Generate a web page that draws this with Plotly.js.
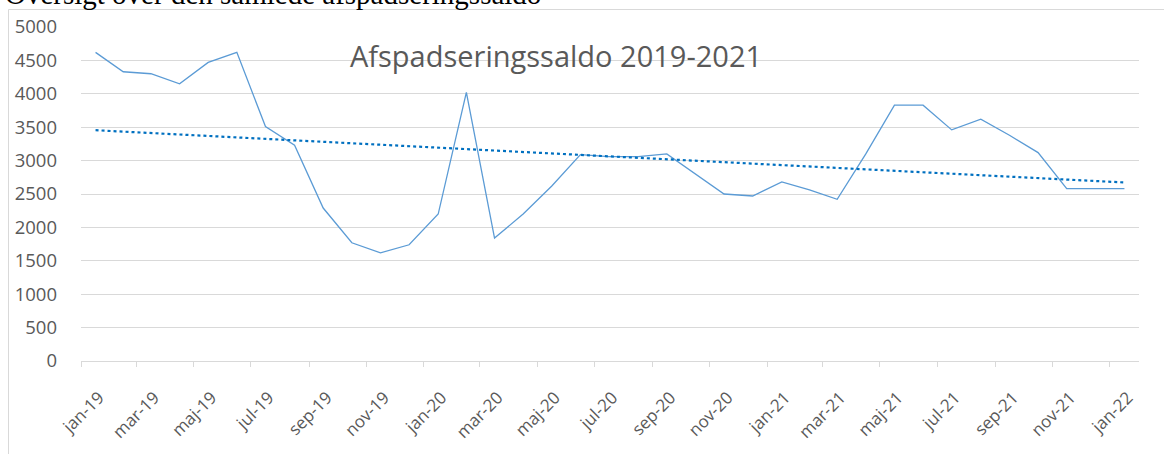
<!DOCTYPE html>
<html>
<head>
<meta charset="utf-8">
<script src="https://cdn.plot.ly/plotly-3.0.1.min.js"></script>
<style>
html, body { margin: 0; padding: 0; background: #ffffff; }
#chart { width: 1164px; height: 454px; }
</style>
</head>
<body>
<div id="chart"></div>
<script>
const months = [
  '2019-01-01','2019-02-01','2019-03-01','2019-04-01','2019-05-01','2019-06-01',
  '2019-07-01','2019-08-01','2019-09-01','2019-10-01','2019-11-01','2019-12-01',
  '2020-01-01','2020-02-01','2020-03-01','2020-04-01','2020-05-01','2020-06-01',
  '2020-07-01','2020-08-01','2020-09-01','2020-10-01','2020-11-01','2020-12-01',
  '2021-01-01','2021-02-01','2021-03-01','2021-04-01','2021-05-01','2021-06-01',
  '2021-07-01','2021-08-01','2021-09-01','2021-10-01','2021-11-01','2021-12-01',
  '2022-01-01'
];
const saldo = [
  4620, 4330, 4300, 4150, 4470, 4620,
  3510, 3230, 2290, 1770, 1620, 1740,
  2200, 4020, 1840, 2200, 2620, 3090,
  3060, 3060, 3100, 2800, 2500, 2470,
  2680, 2560, 2420, 3100, 3830, 3830,
  3460, 3620, 3380, 3120, 2580, 2580,
  2580
];
const tickDates = [
  '2019-01-01','2019-03-01','2019-05-01','2019-07-01','2019-09-01','2019-11-01',
  '2020-01-01','2020-03-01','2020-05-01','2020-07-01','2020-09-01','2020-11-01',
  '2021-01-01','2021-03-01','2021-05-01','2021-07-01','2021-09-01','2021-11-01',
  '2022-01-01'
];
const tickLabels = [
  'jan-19','mar-19','maj-19','jul-19','sep-19','nov-19',
  'jan-20','mar-20','maj-20','jul-20','sep-20','nov-20',
  'jan-21','mar-21','maj-21','jul-21','sep-21','nov-21',
  'jan-22'
];
const chartTitle = 'Afspadseringssaldo 2019-2021';
const headingText = 'Oversigt over den samlede afspadseringssaldo';

// Linear trend line (least squares over the series)
const n = saldo.length;
let sx = 0, sy = 0, sxx = 0, sxy = 0;
for (let i = 0; i < n; i++) { sx += i; sy += saldo[i]; sxx += i * i; sxy += i * saldo[i]; }
const slope = (n * sxy - sx * sy) / (n * sxx - sx * sx);
const icpt = (sy - slope * sx) / n;
const trend = saldo.map((_, i) => icpt + slope * i);

const traces = [
  {
    x: months, y: saldo, type: 'scatter', mode: 'lines',
    xperiod: 'M1', xperiodalignment: 'middle',
    line: { color: '#5B9BD5', width: 1.3 },
    hoverinfo: 'skip'
  },
  {
    x: months, y: trend, type: 'scatter', mode: 'lines',
    xperiod: 'M1', xperiodalignment: 'middle',
    line: { color: '#0070C0', width: 2.2, dash: 'dot' },
    hoverinfo: 'skip'
  }
];

const L = 81, R = 25, T = 27, B = 93, W = 1164, H = 454;
const pw = W - L - R, ph = H - T - B;
const px2x = p => (p - L) / pw;
const py2y = p => (H - B - p) / ph;

const layout = {
  width: W, height: H,
  margin: { l: L, r: R, t: T, b: B, pad: 0, autoexpand: false },
  showlegend: false,
  paper_bgcolor: '#ffffff', plot_bgcolor: '#ffffff',
  font: { family: 'Open Sans, sans-serif', color: '#595959' },
  title: {
    text: chartTitle,
    x: 556 / W, xanchor: 'center', xref: 'container',
    y: 1 - 57 / H, yanchor: 'middle', yref: 'container',
    font: { size: 29, color: '#595959', family: 'Open Sans, sans-serif' }
  },
  xaxis: {
    type: 'date',
    range: ['2019-01-01', '2022-02-01'],
    tickvals: tickDates, ticktext: tickLabels,
    tickangle: -45,
    showgrid: false, zeroline: false,
    showline: true, linecolor: '#d9d9d9', linewidth: 1,
    ticks: 'outside', ticklen: 5, tickcolor: '#d9d9d9', tickwidth: 1,
    ticklabelshift: 18, ticklabelstandoff: 14,
    tickfont: { size: 17, color: '#595959' },
    fixedrange: true
  },
  yaxis: {
    range: [0, 5000], tick0: 0, dtick: 500,
    showgrid: true, gridcolor: '#d9d9d9', gridwidth: 1,
    zeroline: false, showline: false, ticks: '',
    ticklabelstandoff: 23,
    tickfont: { size: 18.5, color: '#595959' },
    fixedrange: true
  },
  shapes: [
    { type: 'line', xref: 'paper', yref: 'paper',
      x0: px2x(8.5), x1: px2x(8.5), y0: py2y(9.5), y1: py2y(460),
      line: { color: '#d9d9d9', width: 1 } },
    { type: 'line', xref: 'paper', yref: 'paper',
      x0: px2x(8.5), x1: px2x(1170), y0: py2y(9.5), y1: py2y(9.5),
      line: { color: '#d9d9d9', width: 1 } }
  ],
  annotations: [
    { text: headingText, xref: 'paper', yref: 'paper',
      x: px2x(3), xanchor: 'left', y: py2y(-6), yanchor: 'middle',
      showarrow: false,
      font: { family: 'Liberation Serif, Times New Roman, serif', size: 29, color: '#000000' } }
  ]
};

Plotly.newPlot('chart', traces, layout, { staticPlot: true, displayModeBar: false });
</script>
</body>
</html>
